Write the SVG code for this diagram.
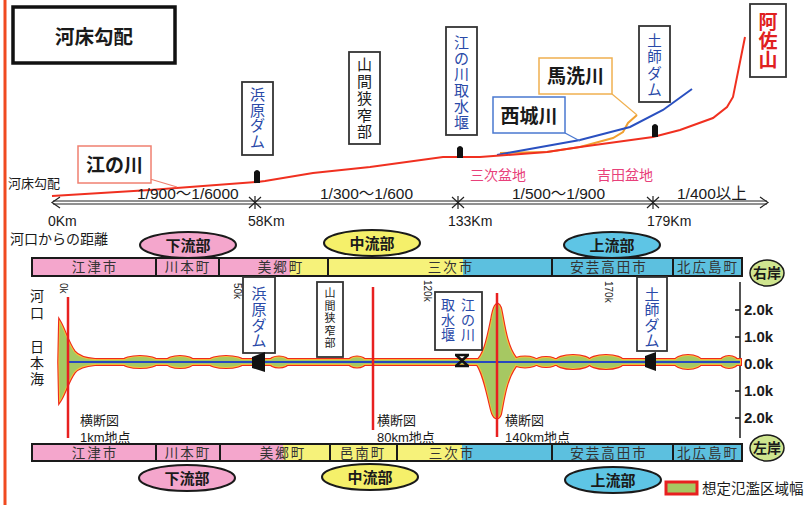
<svg xmlns="http://www.w3.org/2000/svg" xmlns:xlink="http://www.w3.org/1999/xlink" width="811" height="505" viewBox="0 0 811 505">
<style>
text{font-family:"Liberation Sans","Noto Sans CJK JP",sans-serif;fill:#1a1a1a}
.vt{text-anchor:middle;font-size:15px}
.blue{fill:#2a4aa8}
.bx{fill:#fff;stroke:#333;stroke-width:1.8}
.b{font-weight:bold}
.km{font-size:14px}
.rt{font-size:15.5px}
.pk{fill:#e8407a;font-size:14px}
.strip{stroke:#1a1a1a;stroke-width:2}
.st{font-size:13.5px;fill:#333;text-anchor:middle;letter-spacing:2px}
.ell{stroke:#1a1a1a;stroke-width:2}
.el{font-size:15px;font-weight:bold;text-anchor:middle}
.ax{font-size:15px;font-weight:bold}
.xs{font-size:13px}
.red{stroke:#e82020;stroke-width:2.5}
.dam{fill:#111}
</style>
<defs>
<g id="flood">
<rect x="68" y="360" width="672" height="4"/>
<path d="M60 323 C64 330,68 344,74 352 C78 357,84 359,95 360 L95 364 C84 365,78 367,74 372 C68 380,64 394,60 400 C59 375,59 348,60 323 Z"/>
<ellipse cx="140" cy="362" rx="17" ry="5"/>
<ellipse cx="180" cy="362" rx="13" ry="5"/>
<ellipse cx="226" cy="362" rx="17" ry="5"/>
<ellipse cx="279" cy="362" rx="9" ry="4.5"/>
<ellipse cx="357" cy="362" rx="8" ry="4.5"/>
<path d="M476 362 C484 358,488 340,492 320 C494 308,497 300,500 308 C503 320,505 345,515 358 L515 366 C505 380,503 400,500 414 C498 420,494 418,492 410 C488 395,484 370,476 362 Z"/>
<ellipse cx="525" cy="362" rx="12" ry="4.5"/>
<ellipse cx="546" cy="362" rx="10" ry="4"/>
<ellipse cx="573" cy="362" rx="17" ry="6"/>
<ellipse cx="606" cy="362" rx="17" ry="6"/>
<ellipse cx="688" cy="362" rx="13" ry="6"/>
<ellipse cx="729" cy="362" rx="8" ry="5"/>
</g>
</defs>
<rect width="811" height="505" fill="#fff"/>
<line x1="5" y1="0" x2="5" y2="505" stroke="#f04a20" stroke-width="3"/>

<g id="title">
<rect x="13" y="7" width="162" height="56" fill="#fff" stroke="#111" stroke-width="3.5"/>
<text x="94" y="44" text-anchor="middle" font-size="19.5" class="b">河床勾配</text>
</g>

<g id="profile" fill="none">
<polyline points="500,153 547,152 580,147 613,138 623,132 628,123 637,115" stroke="#f0a030" stroke-width="2"/>
<polyline points="497,155 513,152 580,140 630,127 663,110 692,89" stroke="#2a50c0" stroke-width="2"/>
<polyline points="52,196 150,190 257,182 265,181 313,173 370,167 443,157 463,157 480,157 547,152 580,147 653,137 680,130 713,118 727,107 733,97 745,37" stroke="#f03020" stroke-width="2"/>
</g>

<g id="connectors" fill="none">
<line x1="150" y1="179" x2="177" y2="187" stroke="#f08070" stroke-width="1.2"/>
<line x1="565" y1="133" x2="580" y2="141" stroke="#4a78d0" stroke-width="1.2"/>
<line x1="612" y1="94" x2="637" y2="115" stroke="#f0b050" stroke-width="1.2"/>
</g>

<g id="dams-profile" class="dam">
<path d="M254 183 L254 172 Q257 168 260 172 L260 183 Z"/>
<path d="M457 158 L457 148 Q460 144 463 148 L463 158 Z"/>
<path d="M652 137 L652 126 Q655 122 658 126 L658 137 Z"/>
</g>

<g id="label-enokawa">
<rect x="78" y="146" width="73" height="37" fill="#fff" stroke="#f08070" stroke-width="1.5"/>
<text x="114.5" y="172" text-anchor="middle" font-size="19" class="b">江の川</text>
</g>
<g id="label-saijo">
<rect x="493" y="97" width="72" height="36" fill="#fff" stroke="#4a78d0" stroke-width="1.5"/>
<text x="529" y="123" text-anchor="middle" font-size="19" class="b">西城川</text>
</g>
<g id="label-basen">
<rect x="539" y="58" width="73" height="36" fill="#fff" stroke="#f0b050" stroke-width="1.5"/>
<text x="575.5" y="83" text-anchor="middle" font-size="19" class="b">馬洗川</text>
</g>
<g id="label-asa">
<rect x="750" y="4" width="36" height="73" class="bx"/>
<text class="vt b" style="fill:#e02020;font-size:19px"><tspan x="768" y="29">阿</tspan><tspan x="768" y="48">佐</tspan><tspan x="768" y="67">山</tspan></text>
</g>
<g id="top-hamahara">
<rect x="242" y="82" width="31" height="73" class="bx"/>
<text class="vt blue"><tspan x="257.5" y="100">浜</tspan><tspan x="257.5" y="115.5">原</tspan><tspan x="257.5" y="131">ダ</tspan><tspan x="257.5" y="146.5">ム</tspan></text>
</g>
<g id="top-sankan">
<rect x="349" y="52" width="31" height="92" class="bx"/>
<text class="vt"><tspan x="364.5" y="70">山</tspan><tspan x="364.5" y="87">間</tspan><tspan x="364.5" y="104">狭</tspan><tspan x="364.5" y="120.5">窄</tspan><tspan x="364.5" y="137">部</tspan></text>
</g>
<g id="top-shusui">
<rect x="446" y="27" width="31" height="108" class="bx"/>
<text class="vt blue"><tspan x="461.5" y="47.5">江</tspan><tspan x="461.5" y="63.5">の</tspan><tspan x="461.5" y="80">川</tspan><tspan x="461.5" y="96">取</tspan><tspan x="461.5" y="112">水</tspan><tspan x="461.5" y="128">堰</tspan></text>
</g>
<g id="top-haji">
<rect x="639" y="26" width="31" height="76" class="bx"/>
<text class="vt blue" style="font-size:14.5px"><tspan x="654.5" y="46">土</tspan><tspan x="654.5" y="62">師</tspan><tspan x="654.5" y="78.5">ダ</tspan><tspan x="654.5" y="95">ム</tspan></text>
</g>

<text x="470" y="180" class="pk">三次盆地</text>
<text x="597" y="180" class="pk">吉田盆地</text>
<text x="8" y="188" font-size="13">河床勾配</text>

<g id="distance-axis" fill="none" stroke="#222" stroke-width="1.2">
<line x1="53" y1="201" x2="767" y2="201"/>
<line x1="53" y1="204" x2="767" y2="204"/>
<polyline points="60,197 52,202.5 60,208"/>
<polyline points="760,197 768,202.5 760,208"/>
<polyline points="249,197 255,202.5 249,208"/><polyline points="261,197 255,202.5 261,208"/><line x1="255" y1="196" x2="255" y2="209"/>
<polyline points="452,197 458,202.5 452,208"/><polyline points="464,197 458,202.5 464,208"/><line x1="458" y1="196" x2="458" y2="209"/>
<polyline points="647,197 653,202.5 647,208"/><polyline points="659,197 653,202.5 659,208"/><line x1="653" y1="196" x2="653" y2="209"/>
</g>
<text x="137" y="199" class="rt">1/900～1/6000</text>
<text x="320" y="199" class="rt">1/300～1/600</text>
<text x="512" y="199" class="rt">1/500～1/900</text>
<text x="677" y="199" class="rt">1/400以上</text>
<text x="48" y="226" class="km">0Km</text>
<text x="248" y="226" class="km">58Km</text>
<text x="448" y="226" class="km">133Km</text>
<text x="647" y="226" class="km">179Km</text>
<text x="10" y="244" font-size="14">河口からの距離</text>

<g id="region-top-lower"><ellipse cx="188" cy="245" rx="48" ry="13" fill="#f4a6cc" class="ell"/><text x="188" y="250.5" class="el">下流部</text></g>
<g id="region-top-middle"><ellipse cx="372" cy="243" rx="48" ry="13" fill="#f5f06a" class="ell"/><text x="372" y="248.5" class="el">中流部</text></g>
<g id="region-top-upper"><ellipse cx="612" cy="245" rx="48" ry="13" fill="#5ec5e5" class="ell"/><text x="612" y="250.5" class="el">上流部</text></g>
<g id="region-bot-lower"><ellipse cx="187" cy="478" rx="48" ry="13" fill="#f4a6cc" class="ell"/><text x="187" y="483.5" class="el">下流部</text></g>
<g id="region-bot-middle"><ellipse cx="370" cy="477" rx="48" ry="13" fill="#f5f06a" class="ell"/><text x="370" y="482.5" class="el">中流部</text></g>
<g id="region-bot-upper"><ellipse cx="613" cy="480" rx="48" ry="13" fill="#5ec5e5" class="ell"/><text x="613" y="485.5" class="el">上流部</text></g>

<g id="strip-right">
<rect x="32" y="258" width="258" height="18" fill="#f4a6cc"/>
<rect x="290" y="258" width="173" height="18" fill="#f6f27a"/>
<rect x="463" y="258" width="279" height="18" fill="#5cc0df"/>
<rect x="32" y="258" width="710" height="18" fill="none" class="strip"/>
<g class="strip"><line x1="156" y1="258" x2="156" y2="276"/><line x1="219" y1="258" x2="219" y2="276"/><line x1="328" y1="258" x2="328" y2="276"/><line x1="552" y1="258" x2="552" y2="276"/><line x1="673" y1="258" x2="673" y2="276"/></g>
<text x="95" y="272" class="st">江津市</text>
<text x="188" y="272" class="st">川本町</text>
<text x="281" y="272" class="st">美郷町</text>
<text x="451" y="272" class="st">三次市</text>
<text x="609" y="272" class="st">安芸高田市</text>
<text x="708" y="272" class="st">北広島町</text>
</g>
<g id="strip-left">
<rect x="32" y="444" width="251" height="17" fill="#f4a6cc"/>
<rect x="283" y="444" width="179" height="17" fill="#f6f27a"/>
<rect x="462" y="444" width="280" height="17" fill="#5cc0df"/>
<rect x="32" y="444" width="710" height="17" fill="none" class="strip"/>
<g class="strip"><line x1="156" y1="444" x2="156" y2="461"/><line x1="220" y1="444" x2="220" y2="461"/><line x1="330" y1="444" x2="330" y2="461"/><line x1="397" y1="444" x2="397" y2="461"/><line x1="552" y1="444" x2="552" y2="461"/><line x1="673" y1="444" x2="673" y2="461"/></g>
<text x="95" y="457.5" class="st">江津市</text>
<text x="188" y="457.5" class="st">川本町</text>
<text x="283" y="457.5" class="st">美郷町</text>
<text x="363" y="457.5" class="st">邑南町</text>
<text x="452" y="457.5" class="st">三次市</text>
<text x="609" y="457.5" class="st">安芸高田市</text>
<text x="708" y="457.5" class="st">北広島町</text>
</g>

<g id="bank-right"><ellipse cx="767" cy="273" rx="17" ry="13" fill="#cfe58f" stroke="#1a1a1a" stroke-width="1.5"/><text x="767" y="278" text-anchor="middle" font-size="14" class="b">右岸</text></g>
<g id="bank-left"><ellipse cx="767" cy="448" rx="17" ry="13" fill="#cfe58f" stroke="#1a1a1a" stroke-width="1.5"/><text x="767" y="453" text-anchor="middle" font-size="14" class="b">左岸</text></g>

<g id="width-axis" stroke="#1a1a1a" stroke-width="1.5">
<line x1="740" y1="282" x2="740" y2="438"/>
<line x1="735" y1="310" x2="740" y2="310"/><line x1="735" y1="337" x2="740" y2="337"/><line x1="735" y1="364" x2="740" y2="364"/><line x1="735" y1="391" x2="740" y2="391"/><line x1="735" y1="418" x2="740" y2="418"/>
</g>
<text x="744" y="315" class="ax">2.0k</text>
<text x="744" y="342" class="ax">1.0k</text>
<text x="744" y="369" class="ax">0.0k</text>
<text x="744" y="396" class="ax">1.0k</text>
<text x="744" y="423" class="ax">2.0k</text>

<text class="vt" style="font-size:14px"><tspan x="37" y="301">河</tspan><tspan x="37" y="318">口</tspan></text>
<text class="vt" style="font-size:14px"><tspan x="37" y="352">日</tspan><tspan x="37" y="368">本</tspan><tspan x="37" y="384">海</tspan></text>

<g id="flood-zone">
<use xlink:href="#flood" fill="none" stroke="#ee2a1a" stroke-width="4"/>
<use xlink:href="#flood" fill="none" stroke="#f6c23a" stroke-width="1.8"/>
<use xlink:href="#flood" fill="#a6c862" stroke="none"/>
<line x1="68" y1="362" x2="740" y2="362" stroke="#2848c0" stroke-width="2"/>
</g>

<g id="cross-sections" class="red">
<line x1="68" y1="297" x2="68" y2="438"/>
<line x1="373" y1="287" x2="373" y2="430"/>
<line x1="497" y1="293" x2="497" y2="437"/>
</g>
<text x="80" y="425" class="xs">横断図</text><text x="80" y="442" class="xs">1km地点</text>
<text x="377" y="425" class="xs">横断図</text><text x="377" y="442" class="xs">80km地点</text>
<text x="505" y="425" class="xs">横断図</text><text x="505" y="442" class="xs">140km地点</text>

<text transform="translate(60,283) rotate(90)" font-size="10">0k</text>
<text transform="translate(234,283) rotate(90)" font-size="10">50k</text>
<text transform="translate(424,280) rotate(90)" font-size="10">120k</text>
<text transform="translate(605,281) rotate(90)" font-size="10">170k</text>

<g id="plan-hamahara">
<rect x="243" y="277" width="32" height="76" class="bx"/>
<text class="vt blue"><tspan x="259" y="298.5">浜</tspan><tspan x="259" y="314.5">原</tspan><tspan x="259" y="330.5">ダ</tspan><tspan x="259" y="346">ム</tspan></text>
<path class="dam" d="M252 357 L265 352 L265 372 L252 368 Z"/>
</g>
<g id="plan-sankan">
<rect x="317" y="282" width="26" height="75" class="bx"/>
<text class="vt" style="font-size:11px"><tspan x="330" y="297">山</tspan><tspan x="330" y="309.5">間</tspan><tspan x="330" y="322">狭</tspan><tspan x="330" y="334.5">窄</tspan><tspan x="330" y="347">部</tspan></text>
</g>
<g id="plan-shusui">
<rect x="435" y="292" width="47" height="58" class="bx"/>
<text class="vt blue" style="font-size:14px"><tspan x="468" y="310">江</tspan><tspan x="468" y="325">の</tspan><tspan x="468" y="340">川</tspan></text>
<text class="vt blue" style="font-size:14px"><tspan x="448" y="310">取</tspan><tspan x="448" y="325">水</tspan><tspan x="448" y="340">堰</tspan></text>
<path d="M455 355 L469 355 M455 366 L469 366 M456 355 L468 366 M468 355 L456 366" stroke="#111" stroke-width="2.5" fill="none"/>
</g>
<g id="plan-haji">
<rect x="637" y="277" width="30" height="74" class="bx"/>
<text class="vt blue"><tspan x="652" y="299.5">土</tspan><tspan x="652" y="315">師</tspan><tspan x="652" y="330.5">ダ</tspan><tspan x="652" y="346">ム</tspan></text>
<path class="dam" d="M645 356 L656 352 L656 371 L645 367 Z"/>
</g>

<g id="legend">
<rect x="666" y="482" width="31" height="12" fill="#a6c862" stroke="#e82020" stroke-width="3"/>
<text x="702" y="494" font-size="14.5">想定氾濫区域幅</text>
</g>
</svg>
